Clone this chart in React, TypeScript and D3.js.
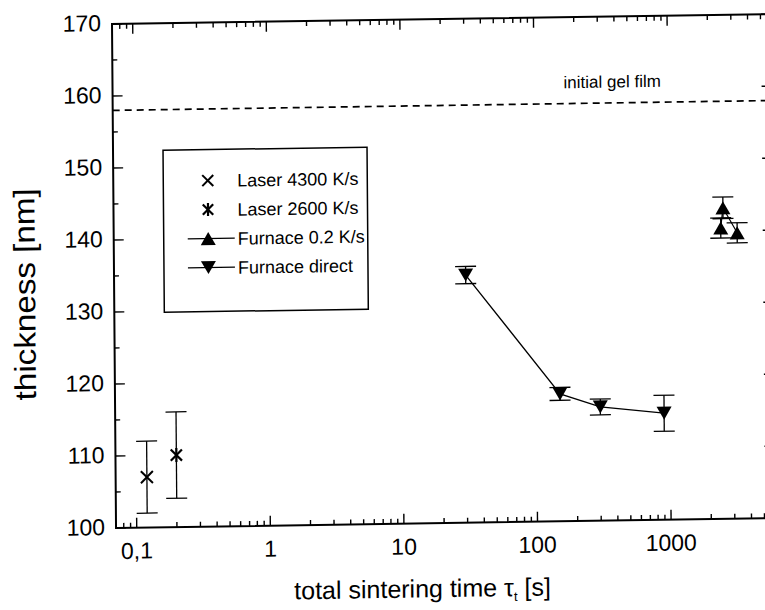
import React from 'react';
import * as d3 from 'd3';

// ---- data ----
const xDomain = [0.07, 6000];
const yDomain = [100, 170];
const yMajorTicks = [100, 110, 120, 130, 140, 150, 160, 170];
const yMinorTicks = [105, 115, 125, 135, 145, 155, 165];
const xMajorTicks = [0.1, 1, 10, 100, 1000];
const xTickLabels = ['0,1', '1', '10', '100', '1000'];
const gelFilmThickness = 158;

const laser4300X = [0.12];
const laser4300Y = [107];
const laser4300Err = [5];

const laser2600X = [0.2];
const laser2600Y = [110];
const laser2600Err = [6];

const furnaceSlowX = [2450, 2550, 3250];
const furnaceSlowY = [140.4, 143.2, 139.7];
const furnaceSlowErr = [1.4, 1.5, 1.4];

const furnaceDirectX = [30, 150, 300, 900];
const furnaceDirectY = [134.4, 117.7, 115.8, 114.8];
const furnaceDirectErr = [1.2, 0.9, 1.1, 2.5];

const legendLabels = ['Laser 4300 K/s', 'Laser 2600 K/s', 'Furnace 0.2 K/s', 'Furnace direct'];

// ---- layout ----
const W = 765;
const H = 610;
const X0 = 112, X1 = 771, Y0 = 528, Y1 = 24;
const FONT = '"Liberation Sans", Arial, Helvetica, sans-serif';
const SCAN = 'matrix(1,-0.015,0.008,1,-0.19,1.67)';

const x = d3.scaleLog().domain(xDomain).range([X0, X1]);
const y = d3.scaleLinear().domain(yDomain).range([Y0, Y1]);

const xMinorTicks: number[] = [];
[0.01, 0.1, 1, 10, 100, 1000].forEach((d) => {
  for (let k = 2; k <= 9; k++) {
    const v = k * d;
    if (v > xDomain[0] && v < xDomain[1]) xMinorTicks.push(v);
  }
});

const MAJ = 10, MIN = 5;

function ErrBar({ cx, v, e, cap = 10.5 }: { cx: number; v: number; e: number; cap?: number }) {
  const t = y(v + e), b = y(v - e);
  return (
    <g stroke="#000" strokeWidth={1.3}>
      <line x1={cx} x2={cx} y1={t} y2={b} />
      <line x1={cx - cap} x2={cx + cap} y1={t} y2={t} />
      <line x1={cx - cap} x2={cx + cap} y1={b} y2={b} />
    </g>
  );
}

function Tri({ cx, cy, down }: { cx: number; cy: number; down: boolean }) {
  const w = 7.5, h = 6.5;
  const p = down
    ? `M${cx - w},${cy - h}L${cx + w},${cy - h}L${cx},${cy + h}Z`
    : `M${cx - w},${cy + h}L${cx + w},${cy + h}L${cx},${cy - h}Z`;
  return <path d={p} fill="#000" />;
}

function Cross({ cx, cy, r = 6 }: { cx: number; cy: number; r?: number }) {
  return (
    <g stroke="#000" strokeWidth={2}>
      <line x1={cx - r} y1={cy - r} x2={cx + r} y2={cy + r} />
      <line x1={cx - r} y1={cy + r} x2={cx + r} y2={cy - r} />
    </g>
  );
}

function Star({ cx, cy, r = 7 }: { cx: number; cy: number; r?: number }) {
  return (
    <g stroke="#000" strokeWidth={2.2}>
      <line x1={cx - r * 0.8} y1={cy - r * 0.8} x2={cx + r * 0.8} y2={cy + r * 0.8} />
      <line x1={cx - r * 0.8} y1={cy + r * 0.8} x2={cx + r * 0.8} y2={cy - r * 0.8} />
      <line x1={cx} y1={cy - r} x2={cx} y2={cy + r} />
    </g>
  );
}

export default function App() {
  const line = d3.line<[number, number]>().x((d) => x(d[0])).y((d) => y(d[1]));
  const directPts = furnaceDirectX.map((v, i) => [v, furnaceDirectY[i]] as [number, number]);
  const slowPts = furnaceSlowX.map((v, i) => [v, furnaceSlowY[i]] as [number, number]);

  const legendRows = [182, 211, 240, 269];
  const lgX = 206.5;

  return (
    <svg width={W} height={H} style={{ position: 'absolute', left: 0, top: 0, background: '#fff' }} fontFamily={FONT}>
      <rect x={0} y={0} width={W} height={H} fill="#fff" />
      <g transform={SCAN}>
        {/* gel film dashed line */}
        <line x1={X0} x2={X1} y1={y(gelFilmThickness)} y2={y(gelFilmThickness)} stroke="#000" strokeWidth={1.7} strokeDasharray="7 5" />
        <text x={563} y={95} fontSize={17} fill="#000">initial gel film</text>

        {/* axes ticks */}
        <g stroke="#000" strokeWidth={1.4}>
          {yMajorTicks.map((t) => (
            <g key={'ym' + t}>
              <line x1={X0} x2={X0 + MAJ} y1={y(t)} y2={y(t)} />
              <line x1={X1} x2={X1 - MAJ} y1={y(t)} y2={y(t)} />
            </g>
          ))}
          {yMinorTicks.map((t) => (
            <g key={'yn' + t}>
              <line x1={X0} x2={X0 + MIN} y1={y(t)} y2={y(t)} />
              <line x1={X1} x2={X1 - MIN} y1={y(t)} y2={y(t)} />
            </g>
          ))}
          {xMajorTicks.map((t) => (
            <g key={'xm' + t}>
              <line x1={x(t)} x2={x(t)} y1={Y0} y2={Y0 - MAJ} />
              <line x1={x(t)} x2={x(t)} y1={Y1} y2={Y1 + MAJ} />
            </g>
          ))}
          {xMinorTicks.map((t) => (
            <g key={'xn' + t}>
              <line x1={x(t)} x2={x(t)} y1={Y0} y2={Y0 - MIN} />
              <line x1={x(t)} x2={x(t)} y1={Y1} y2={Y1 + MIN} />
            </g>
          ))}
        </g>
        <rect x={X0} y={Y1} width={X1 - X0} height={Y0 - Y1} fill="none" stroke="#000" strokeWidth={2} />

        {/* tick labels */}
        {yMajorTicks.map((t) => (
          <text key={'yl' + t} x={101} y={y(t) + 7} fontSize={23} textAnchor="end" fill="#000">{t}</text>
        ))}
        {xMajorTicks.map((t, i) => (
          <text key={'xl' + t} x={x(t)} y={Y0 + 31} fontSize={23} textAnchor="middle" fill="#000">{xTickLabels[i]}</text>
        ))}

        {/* axis titles */}
        <text transform={`translate(33,293) rotate(-90)`} fontSize={30} textAnchor="middle" fill="#000" textLength={212} lengthAdjust="spacingAndGlyphs">thickness [nm]</text>
        <text x={418} y={602} fontSize={25} textAnchor="middle" fill="#000">
          total sintering time τ<tspan fontSize={13} dy={5}>t</tspan><tspan dy={-5}> [s]</tspan>
        </text>

        {/* data: lasers */}
        {laser4300X.map((v, i) => (
          <g key={'l43' + i}>
            <ErrBar cx={x(v)} v={laser4300Y[i]} e={laser4300Err[i]} />
            <Cross cx={x(v)} cy={y(laser4300Y[i])} />
          </g>
        ))}
        {laser2600X.map((v, i) => (
          <g key={'l26' + i}>
            <ErrBar cx={x(v)} v={laser2600Y[i]} e={laser2600Err[i]} />
            <Star cx={x(v)} cy={y(laser2600Y[i])} />
          </g>
        ))}

        {/* furnace direct */}
        <path d={line(directPts) || ''} fill="none" stroke="#000" strokeWidth={1.3} />
        {furnaceDirectX.map((v, i) => (
          <g key={'fd' + i}>
            <ErrBar cx={x(v)} v={furnaceDirectY[i]} e={furnaceDirectErr[i]} />
            <Tri cx={x(v)} cy={y(furnaceDirectY[i])} down={true} />
          </g>
        ))}

        {/* furnace 0.2 K/s */}
        <path d={line(slowPts) || ''} fill="none" stroke="#000" strokeWidth={1.2} />
        {furnaceSlowX.map((v, i) => (
          <g key={'fs' + i}>
            <ErrBar cx={x(v)} v={furnaceSlowY[i]} e={furnaceSlowErr[i]} />
            <Tri cx={x(v)} cy={y(furnaceSlowY[i])} down={false} />
          </g>
        ))}

        {/* legend */}
        <rect x={162} y={151} width={204} height={162} fill="#fff" stroke="#000" strokeWidth={1.5} />
        <Cross cx={lgX} cy={legendRows[0]} r={5.5} />
        <Star cx={lgX} cy={legendRows[1]} r={6.5} />
        <line x1={186} x2={233} y1={legendRows[2]} y2={legendRows[2]} stroke="#000" strokeWidth={1.3} />
        <Tri cx={lgX} cy={legendRows[2]} down={false} />
        <line x1={186} x2={233} y1={legendRows[3]} y2={legendRows[3]} stroke="#000" strokeWidth={1.3} />
        <Tri cx={lgX} cy={legendRows[3]} down={true} />
        {legendLabels.map((l, i) => (
          <text key={l} x={236} y={legendRows[i] + 6.5} fontSize={18} fill="#000">{l}</text>
        ))}
      </g>
    </svg>
  );
}
